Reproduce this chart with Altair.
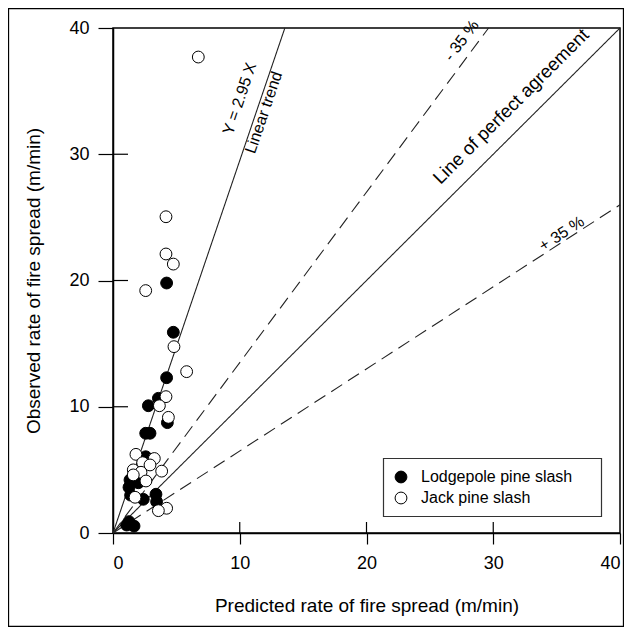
import altair as alt
import pandas as pd

FONT = "Liberation Sans"

# ---- data ----
lodgepole_x = [4.23, 4.76, 4.23, 3.58, 2.79, 4.29, 2.58, 2.92, 2.58, 1.34, 2.0, 1.26, 1.39, 2.39, 3.39, 3.44, 1.26, 1.66, 1.08]
lodgepole_y = [19.8, 15.9, 12.3, 10.67, 10.08, 8.74, 7.9, 7.9, 6.04, 4.2, 3.98, 3.62, 3.0, 2.67, 3.07, 2.48, 0.9, 0.55, 0.63]
jack_x = [6.73, 4.18, 4.18, 4.76, 2.58, 4.81, 5.81, 4.18, 3.66, 4.37, 1.81, 3.26, 2.34, 2.92, 3.84, 1.6, 2.21, 1.6, 2.6, 1.74, 4.23, 3.58]
jack_y = [37.7, 25.05, 22.1, 21.3, 19.2, 14.76, 12.78, 10.8, 10.08, 9.16, 6.23, 5.9, 5.57, 5.39, 4.9, 5.0, 4.81, 4.6, 4.12, 2.83, 1.96, 1.77]
series_names = ["Lodgepole pine slash", "Jack pine slash"]
tick_values = [0, 10, 20, 30, 40]
inner_ticks = [10, 20, 30]
trend_slope = 2.95
minus35_slope = 1.35
plus35_slope = 0.65

pts = pd.DataFrame(
    {"x": lodgepole_x + jack_x,
     "y": lodgepole_y + jack_y,
     "series": [series_names[0]] * len(lodgepole_x) + [series_names[1]] * len(jack_x)}
)

lines = pd.DataFrame({
    "name": ["trend", "trend", "perfect", "perfect", "m35", "m35", "p35", "p35"],
    "dash": ["solid", "solid", "solid", "solid", "dash", "dash", "dash", "dash"],
    "x": [0, 40 / trend_slope, 0, 40, 0, 40 / minus35_slope, 0, 40],
    "y": [0, 40, 0, 40, 0, 40, 0, 40 * plus35_slope],
})

xs = alt.Scale(domain=[0, 40], nice=False, zero=False)
ys = alt.Scale(domain=[0, 40], nice=False, zero=False)

x_axis = alt.Axis(values=tick_values, title="Predicted rate of fire spread (m/min)",
                  tickSize=11, labelPadding=10, titlePadding=24, grid=False)
y_axis = alt.Axis(values=tick_values, title="Observed rate of fire spread (m/min)",
                  tickSize=15, labelPadding=9, titlePadding=25, grid=False)

one = pd.DataFrame({"a": [0]})
border = alt.Chart(one).mark_rect(
    fill=None, stroke="black", strokeWidth=1.3, clip=False
).encode(x=alt.value(-104.5), x2=alt.value(510.5), y=alt.value(-19.5), y2=alt.value(598.5))

legend_box = alt.Chart(one).mark_rect(
    fill="white", stroke="#333", strokeWidth=1.2
).encode(x=alt.value(270.5), x2=alt.value(488.5), y=alt.value(430.5), y2=alt.value(488.5))

line_layer = alt.Chart(lines).mark_line(color="#222", strokeWidth=1.1).encode(
    x=alt.X("x:Q", scale=xs, axis=x_axis),
    y=alt.Y("y:Q", scale=ys, axis=y_axis),
    detail="name:N",
    strokeDash=alt.StrokeDash("dash:N", scale=alt.Scale(domain=["solid", "dash"], range=[[1, 0], [13, 7]]), legend=None),
)

xt = alt.Chart(pd.DataFrame({"t": inner_ticks})).mark_rule(color="black", strokeWidth=1.2).encode(
    x=alt.X("t:Q", scale=xs), y=alt.value(505), y2=alt.value(494))
yt = alt.Chart(pd.DataFrame({"t": inner_ticks})).mark_rule(color="black", strokeWidth=1.2).encode(
    y=alt.Y("t:Q", scale=ys), x=alt.value(0), x2=alt.value(15))


def label(txt, x, y, angle, size=16):
    return alt.Chart(one).mark_text(
        text=txt, angle=angle, font=FONT, fontSize=size, color="black", align="center", baseline="middle"
    ).encode(x=alt.datum(x, scale=xs), y=alt.datum(y, scale=ys))


labels = (
    label("Y = 2.95 X", 10.0, 34.4, 288.8)
    + label("Linear trend", 11.9, 33.3, 288.8)
    + label("- 35 %", 27.5, 39.0, 306.6)
    + label("Line of perfect agreement", 31.4, 33.8, 315.1, 18.5)
    + label("+ 35 %", 35.4, 23.7, 327.1)
)

points = alt.Chart(pts).mark_point(
    shape="circle", size=140, stroke="black", strokeWidth=1, opacity=1, fillOpacity=1
).encode(
    x=alt.X("x:Q", scale=xs),
    y=alt.Y("y:Q", scale=ys),
    fill=alt.Fill("series:N", scale=alt.Scale(domain=series_names, range=["black", "white"]),
                  sort=series_names,
                  legend=alt.Legend(title=None, orient="none", legendX=270, legendY=431,
                                    padding=10, symbolType="circle",
                                    symbolSize=140, symbolStrokeColor="black", symbolStrokeWidth=1,
                                    labelFont=FONT, labelFontSize=16, labelOffset=12, rowPadding=5,
                                    labelLimit=400)),
)

chart = alt.layer(border, line_layer, xt, yt, labels, legend_box, points).properties(
    width=507, height=505,
    autosize=alt.AutoSizeParams(type="none"),
    padding={"left": 105, "top": 20, "right": 4, "bottom": 94},
).configure_view(stroke="black", strokeWidth=1.5).configure_axis(
    domainColor="black", domainWidth=1.5, tickColor="black", tickWidth=1.2,
    labelFont=FONT, labelFontSize=18, labelColor="black",
    titleFont=FONT, titleFontSize=19, titleColor="black", titleFontWeight="normal",
)

chart.save("out.html", embed_options={"renderer": "svg", "actions": False})
